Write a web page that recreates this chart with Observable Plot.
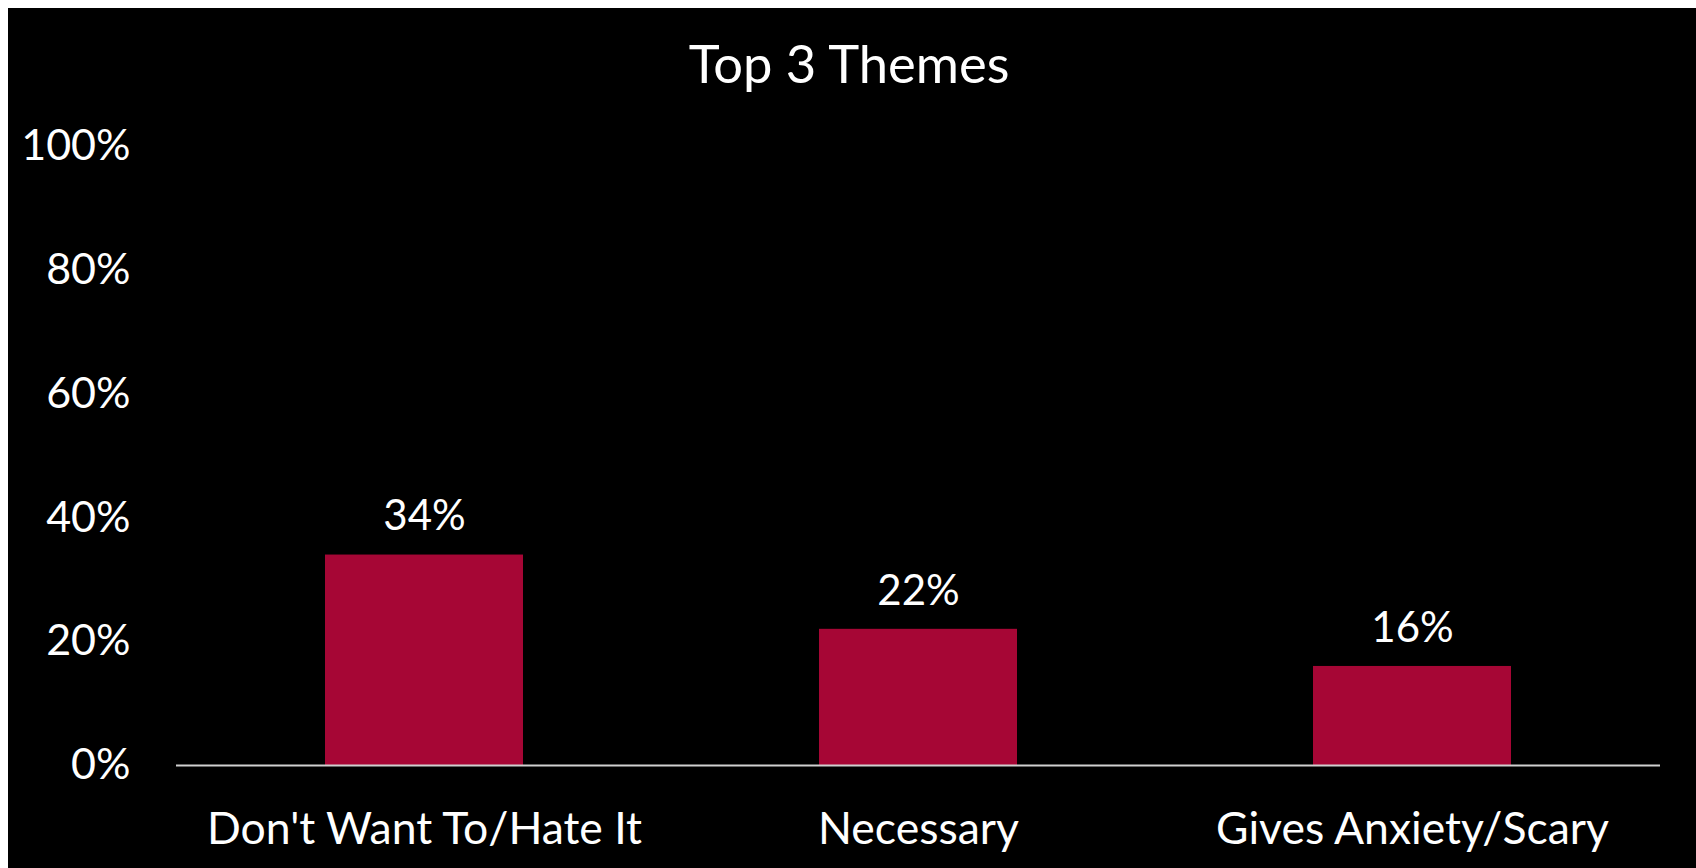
<!DOCTYPE html>
<html>
<head>
<meta charset="utf-8">
<script src="https://cdn.jsdelivr.net/npm/d3@7"></script>
<script src="https://cdn.jsdelivr.net/npm/@observablehq/plot@0.6"></script>
<style>
  html, body { margin: 0; padding: 0; background: #ffffff; overflow: hidden; }
  #chart { position: absolute; left: 8px; top: 8px; width: 1688px; height: 860px; background: #000000; }
  #title { box-sizing: border-box; height: 90px; padding-top: 29px; padding-right: 6px; color: #ffffff;
           font-family: Lato, "Open Sans", sans-serif; font-size: 52.5px; line-height: 52.5px; text-align: center; }
  #plot svg { display: block; }
</style>
</head>
<body>
<div id="chart">
  <div id="title">Top 3 Themes</div>
  <div id="plot"></div>
</div>
<script>
const themes = ["Don't Want To/Hate It", "Necessary", "Gives Anxiety/Scary"];
const shares = [0.34, 0.22, 0.16];
const yTicks = [0, 0.2, 0.4, 0.6, 0.8, 1];

const data = themes.map((t, i) => ({theme: t, value: shares[i]}));
const pct = d3.format(".0%");

const chart = Plot.plot({
  width: 1688,
  height: 770,
  marginLeft: 168,
  marginRight: 36,
  marginTop: 48,
  marginBottom: 103,
  style: {background: "#000000", color: "#ffffff", fontFamily: "Lato, 'Open Sans', sans-serif", fontSize: "42px"},
  x: {domain: themes, paddingInner: 0.6, paddingOuter: 0.3, label: null},
  y: {domain: [0, 1], label: null},
  marks: [
    Plot.barY(data, {x: "theme", y: "value", fill: "#A60635"}),
    Plot.ruleY([0], {stroke: "#d0d0d0", strokeWidth: 2}),
    Plot.text(data, {x: "theme", y: "value", text: d => pct(d.value), dy: -38, lineAnchor: "middle", fill: "#ffffff", fontSize: 42}),
    Plot.axisY({ticks: yTicks, tickFormat: pct, tickSize: 0, tickPadding: 46, fontSize: 43, label: null}),
    Plot.axisX({tickSize: 0, tickPadding: 47, fontSize: 44.5, label: null})
  ]
});
document.getElementById("plot").appendChild(chart);
</script>
</body>
</html>
